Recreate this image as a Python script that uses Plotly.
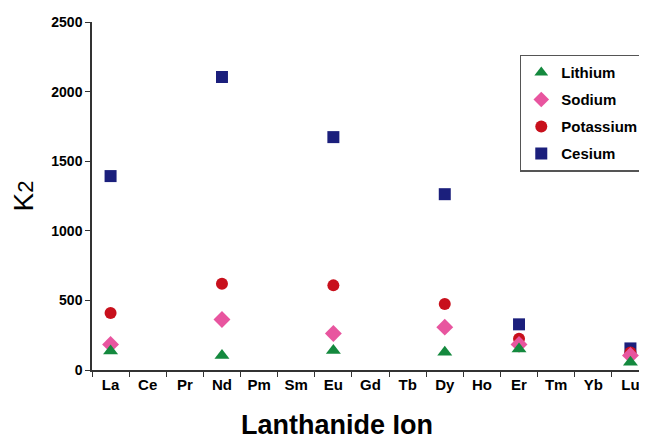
import plotly.graph_objects as go

categories = ["La", "Ce", "Pr", "Nd", "Pm", "Sm", "Eu", "Gd", "Tb", "Dy", "Ho", "Er", "Tm", "Yb", "Lu"]
measured = ["La", "Nd", "Eu", "Dy", "Er", "Lu"]
lithium = [136, 104, 140, 128, 150, 56]
sodium = [184, 363, 262, 308, 184, 105]
potassium = [410, 620, 608, 474, 224, 125]
cesium = [1393, 2105, 1673, 1263, 328, 155]
y_ticks = [0, 500, 1000, 1500, 2000, 2500]

FONT = "Arial, Liberation Sans, sans-serif"

series = [
    ("Cesium", cesium, "square", "#1b1f7c", 12, 4),
    ("Potassium", potassium, "circle", "#c8101c", 12, 3),
    ("Sodium", sodium, "diamond", "#e8559f", 13, 2),
    ("Lithium", lithium, "triangle-up", "#14893e", 13, 1),
]

fig = go.Figure()
for name, vals, sym, col, size, rank in series:
    fig.add_trace(go.Scatter(
        x=measured, y=vals, mode="markers", name=name, legendrank=rank,
        legendgroup=name,
        marker=dict(symbol=sym, color=col, size=size, line=dict(width=0)),
    ))

fig.add_annotation(
    text="Lanthanide Ion", xref="paper", yref="paper",
    x=0.439, y=-0.158, xanchor="center", yanchor="middle", showarrow=False,
    font=dict(family=FONT, size=27, color="black", weight="bold"),
)

fig.update_layout(
    width=647, height=440,
    margin=dict(l=84, r=6, t=14, b=78),
    paper_bgcolor="white", plot_bgcolor="white",
    font=dict(family=FONT, color="black"),
    showlegend=True,
    legend=dict(
        x=0.768, y=0.906, xanchor="left", yanchor="top",
        bordercolor="#555555", borderwidth=1.5, bgcolor="white",
        font=dict(family=FONT, size=15, color="black", weight="bold"),
        traceorder="grouped", tracegroupgap=4.5, itemsizing="constant",
    ),
    xaxis=dict(
        type="category", categoryorder="array", categoryarray=categories,
        range=[-0.5, len(categories) - 0.5],
        showline=True, linecolor="#333333", linewidth=1.5,
        ticks="outside", tickson="boundaries", ticklen=5, tickcolor="#333333",
        showgrid=False, zeroline=False,
        tickfont=dict(family=FONT, size=15, color="black", weight="bold"),
    ),
    yaxis=dict(
        range=[0, 2500], tickvals=y_ticks,
        showline=True, linecolor="#333333", linewidth=1.5,
        ticks="outside", ticklen=5, tickcolor="#333333",
        showgrid=False, zeroline=False,
        tickfont=dict(family=FONT, size=14, color="black", weight="bold"),
        title=dict(text="K<span style='font-size:22px'>2</span>", standoff=16,
                   font=dict(family=FONT, size=28, color="black")),
    ),
)

fig.write_html("out.html")
